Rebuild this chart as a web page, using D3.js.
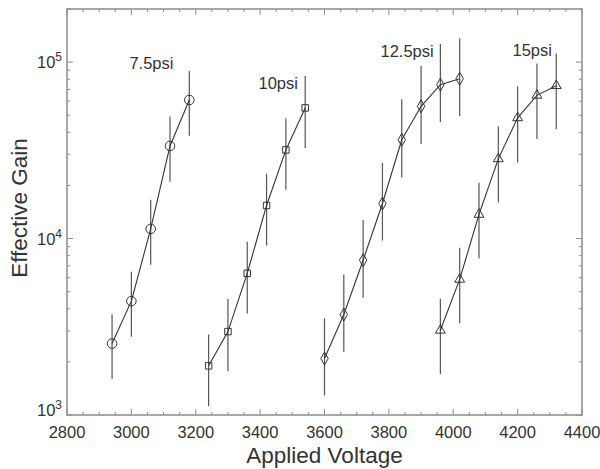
<!DOCTYPE html>
<html>
<head>
<meta charset="utf-8">
<script src="https://cdn.jsdelivr.net/npm/d3@7"></script>
<style>
  body { margin: 0; background: #fff; }
  text { font-family: "Liberation Sans", Arial, sans-serif; fill: #333; }
</style>
</head>
<body>
<div id="chart"></div>
<script>
// gain vs applied voltage, one series per pressure, log y axis
var voltage75 = [2940, 3000, 3060, 3120, 3180];
var gain75 = [2540, 4420, 11350, 33500, 61000];
var lo75 = [1600, 2780, 7100, 21000, 38200];
var hi75 = [3720, 6490, 16600, 49100, 89000];

var voltage10 = [3240, 3300, 3360, 3420, 3480, 3540];
var gain10 = [1900, 2970, 6350, 15400, 31800, 55000];
var lo10 = [1120, 1770, 3760, 9130, 18900, 32600];
var hi10 = [2860, 4540, 9580, 23300, 48100, 83400];

var voltage125 = [3600, 3660, 3720, 3780, 3840, 3900, 3960, 4020];
var gain125 = [2090, 3710, 7540, 15800, 36300, 56200, 74500, 80500];
var lo125 = [1290, 2280, 4620, 9740, 22200, 34400, 45800, 49500];
var hi125 = [3530, 6260, 12750, 26800, 61500, 95300, 126800, 136700];

var voltage15 = [3960, 4020, 4080, 4140, 4200, 4260, 4320];
var gain15 = [3020, 5870, 13700, 28300, 48300, 64800, 73500];
var lo15 = [1700, 3310, 7710, 16000, 27000, 36700, 41700];
var hi15 = [4560, 8860, 20700, 43100, 72900, 98300, 112000];

var seriesNames = ["7.5psi", "10psi", "12.5psi", "15psi"];
// where each name sits, in data units (left edge voltage, baseline gain)
var labelVoltage = [2994, 3395, 3774, 4184];
var labelGain = [91300, 70300, 106700, 108100];

var xTicks = [2800, 3000, 3200, 3400, 3600, 3800, 4000, 4200, 4400];
var yTicks = [1e3, 1e4, 1e5];

var margin = {top: 9, right: 18, bottom: 54, left: 67},
    width = 600 - margin.left - margin.right,
    height = 469 - margin.top - margin.bottom;

var x = d3.scaleLinear().domain([2800, 4400]).range([0, width]);
var y = d3.scaleLog().domain([1e3, 2e5]).range([height, 0]);

var svg = d3.select("#chart").append("svg")
    .attr("width", 600)
    .attr("height", 469)
  .append("g")
    .attr("transform", "translate(" + margin.left + "," + margin.top + ")");

var axisColor = "#8c8c8c";

// minor ticks
var xMinor = d3.range(2850, 4400, 50).filter(function(d) { return d % 200 !== 0; });
var yMinor = [];
[1e3, 1e4, 1e5].forEach(function(dec) {
    for (var k = 2; k <= 9; k++) if (dec * k <= 2e5) yMinor.push(dec * k);
});

var ticks = svg.append("g").attr("class", "ticks")
    .attr("stroke", axisColor).attr("stroke-width", 1);

function xTick(v, len) {
    ticks.append("line").attr("x1", x(v)).attr("x2", x(v)).attr("y1", height).attr("y2", height - len);
    ticks.append("line").attr("x1", x(v)).attr("x2", x(v)).attr("y1", 0).attr("y2", len);
}
function yTick(v, len) {
    ticks.append("line").attr("y1", y(v)).attr("y2", y(v)).attr("x1", 0).attr("x2", len);
    ticks.append("line").attr("y1", y(v)).attr("y2", y(v)).attr("x1", width).attr("x2", width - len);
}
xTicks.forEach(function(v) { xTick(v, 6); });
xMinor.forEach(function(v) { xTick(v, 3); });
yTicks.forEach(function(v) { yTick(v, 6); });
yMinor.forEach(function(v) { yTick(v, 3); });

// frame
svg.append("rect")
    .attr("width", width).attr("height", height)
    .attr("fill", "none").attr("stroke", axisColor).attr("stroke-width", 1.5);

// x tick labels
svg.append("g").selectAll("text")
    .data(xTicks).enter().append("text")
    .attr("x", function(d) { return x(d); })
    .attr("y", height + 23)
    .attr("text-anchor", "middle")
    .style("font-size", "16.5px")
    .text(function(d) { return d; });

// y tick labels, 10 with exponent
var yl = svg.append("g").selectAll("text")
    .data(yTicks).enter().append("text")
    .attr("x", -5)
    .attr("y", function(d) { return y(d) + (d === 1e3 ? 1 : 6); })
    .attr("text-anchor", "end")
    .style("font-size", "16.5px");
yl.append("tspan").text("10");
yl.append("tspan")
    .attr("dy", -7)
    .style("font-size", "12px")
    .text(function(d) { return Math.round(Math.log10(d)); });

// axis titles
svg.append("text")
    .attr("x", width / 2)
    .attr("y", height + 48)
    .attr("text-anchor", "middle")
    .style("font-size", "22.5px")
    .text("Applied Voltage");

svg.append("text")
    .attr("transform", "translate(" + (-40) + "," + (height / 2 - 4) + ") rotate(-90)")
    .attr("text-anchor", "middle")
    .style("font-size", "22.5px")
    .text("Effective Gain");

// series
var series = [
    {v: voltage75, g: gain75, lo: lo75, hi: hi75, sym: d3.symbolCircle, size: 72},
    {v: voltage10, g: gain10, lo: lo10, hi: hi10, sym: d3.symbolSquare, size: 42},
    {v: voltage125, g: gain125, lo: lo125, hi: hi125, sym: d3.symbolDiamond, size: 48},
    {v: voltage15, g: gain15, lo: lo15, hi: hi15, sym: d3.symbolTriangle, size: 42}
];

var line = d3.line()
    .x(function(d) { return x(d[0]); })
    .y(function(d) { return y(d[1]); });

series.forEach(function(s) {
    var pts = s.v.map(function(v, i) { return [v, s.g[i], s.lo[i], s.hi[i]]; });
    var g = svg.append("g");

    g.selectAll(".err").data(pts).enter().append("line")
        .attr("class", "err")
        .attr("x1", function(d) { return x(d[0]); })
        .attr("x2", function(d) { return x(d[0]); })
        .attr("y1", function(d) { return y(d[2]); })
        .attr("y2", function(d) { return y(d[3]); })
        .attr("stroke", "#555")
        .attr("stroke-width", 1.2);

    g.append("path")
        .datum(pts)
        .attr("d", line)
        .attr("fill", "none")
        .attr("stroke", "#333")
        .attr("stroke-width", 1.1);

    g.selectAll(".mk").data(pts).enter().append("path")
        .attr("class", "mk")
        .attr("transform", function(d) { return "translate(" + x(d[0]) + "," + y(d[1]) + ")"; })
        .attr("d", d3.symbol().type(s.sym).size(s.size))
        .attr("fill", "none")
        .attr("stroke", "#333")
        .attr("stroke-width", 1);
});

// series names
svg.append("g").selectAll("text")
    .data(seriesNames).enter().append("text")
    .attr("x", function(d, i) { return x(labelVoltage[i]); })
    .attr("y", function(d, i) { return y(labelGain[i]); })
    .style("font-size", "16.5px")
    .text(function(d) { return d; });
</script>
</body>
</html>
